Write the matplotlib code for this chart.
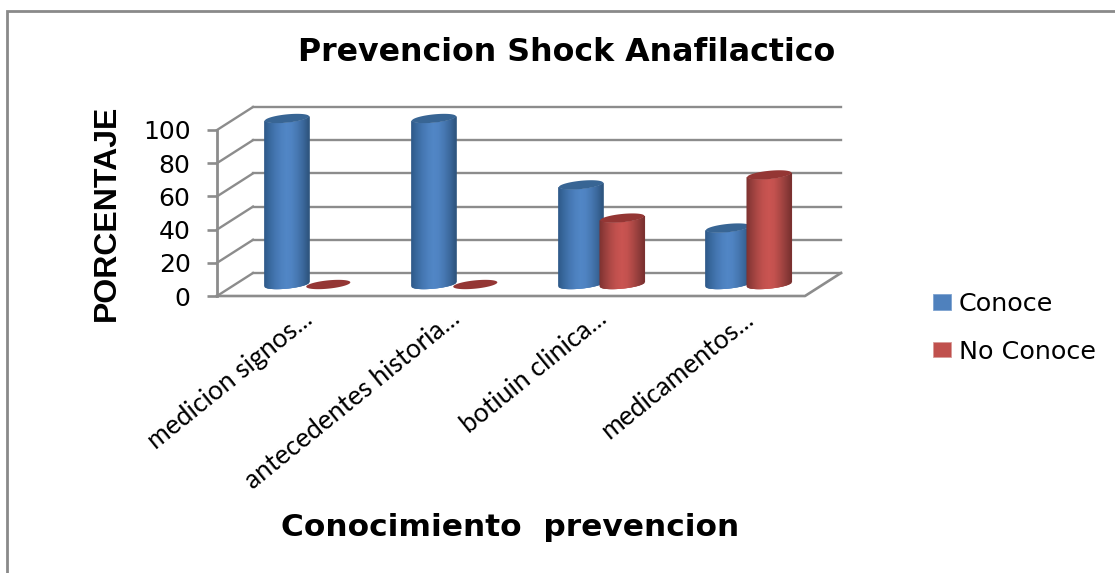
import numpy as np
import matplotlib
matplotlib.use("Agg")
import matplotlib.pyplot as plt
from matplotlib.lines import Line2D
from matplotlib.patches import Patch
from matplotlib.transforms import ScaledTranslation

categories = ["medicion signos...", "antecedentes historia...", "botiuin clinica...", "medicamentos..."]
conoce = [100, 100, 60, 34]
no_conoce = [0, 0, 40, 66]
y_ticks = [0, 20, 40, 60, 80, 100]

W, H = 1115, 573
fig = plt.figure(figsize=(W / 100, H / 100), dpi=100, facecolor="white")
ax = fig.add_axes([217 / W, 1 - 296 / H, 588 / W, 166 / H])

GRID = "#8c8c8c"
DEPTH_X = 36 / 147      # floor depth, in category units
DEPTH_Y = 23 / 1.66     # floor depth, in percent units
RADIUS = 0.15
CAP_B = 2.5
CAP_TILT = 1.3

# Walls and floor of the 3-D frame
for v in y_ticks:
    ax.plot([DEPTH_X, 4 + DEPTH_X], [v + DEPTH_Y] * 2, color=GRID, lw=1.7, zorder=1, clip_on=False)
    ax.plot([0, DEPTH_X], [v, v + DEPTH_Y], color=GRID, lw=1.7, zorder=1, clip_on=False)
ax.plot([0, 4, 4 + DEPTH_X], [0, 0, DEPTH_Y], color=GRID, lw=1.9, zorder=1, clip_on=False)
ax.plot([0, 0], [0, 100], color=GRID, lw=2.0, zorder=1, clip_on=False)


def cylinder(center, value, stops, cap_color, z):
    """Draw one cylinder as shaded vertical strips with an elliptical cap."""
    u = np.linspace(-1, 1, 90)
    base = DEPTH_Y / 2
    curve = CAP_B * np.sqrt(np.clip(1 - u ** 2, 0, 1))
    tilt = CAP_TILT * u
    low = base + tilt - curve
    high = base + value + tilt - curve
    rgb = np.array([matplotlib.colors.to_rgb(c) for c in stops])
    pos = np.linspace(-1, 1, len(stops))
    shades = np.column_stack([np.interp(u, pos, rgb[:, i]) for i in range(3)])
    if value > 0:
        ax.bar(center + RADIUS * u, high - low, bottom=low, width=RADIUS * 2 / 30,
               color=shades, linewidth=0, zorder=z, clip_on=False, snap=False)
    t = np.linspace(0, 2 * np.pi, 90)
    ax.fill(center + RADIUS * np.cos(t),
            base + value + CAP_TILT * np.cos(t) + CAP_B * np.sin(t),
            color=cap_color, linewidth=0, zorder=z + 0.1, clip_on=False)


BLUE_STOPS = ["#2f5a8a", "#3a6a9f", "#4577b2", "#4d81bf", "#5186c6", "#4f83c2", "#4778b2", "#3c699d", "#2f5680"]
RED_STOPS = ["#7f3331", "#983f3d", "#b04a47", "#c2514e", "#ca5451", "#c4524f", "#ae4946", "#943e3c", "#7b3130"]

x = np.arange(len(categories))
for i in x:
    cylinder(i + 0.476, conoce[i], BLUE_STOPS, "#386594", 3 + i * 0.01)
    cylinder(i + 0.757, no_conoce[i], RED_STOPS, "#943634", 4 + i * 0.01)

ax.set_xlim(0, 4)
ax.set_ylim(0, 100)
for s in ax.spines.values():
    s.set_visible(False)
ax.patch.set_visible(False)

ax.set_yticks(y_ticks)
ax.tick_params(axis="y", length=7, width=1.9, color=GRID, pad=12, labelsize=18, labelcolor="black")
for lab in ax.get_yticklabels():
    lab.set_fontfamily("DejaVu Sans")

ax.set_xticks(x + 0.5, categories, rotation=39, ha="right", va="top",
              rotation_mode="anchor", fontsize=19, fontfamily="Lato")
ax.tick_params(axis="x", length=0, pad=0)
shift = ScaledTranslation(11 / 100, -10 / 100, fig.dpi_scale_trans)
for lab in ax.get_xticklabels():
    lab.set_transform(lab.get_transform() + shift)

ax.set_title("Prevencion Shock Anafilactico", fontsize=22.8, fontweight="bold",
             fontfamily="DejaVu Sans", x=(567 - 217) / 588, y=(296 - 61) / 166, pad=0)
ax.set_xlabel("Conocimiento  prevencion", fontsize=22.5, fontweight="bold", fontfamily="DejaVu Sans")
ax.xaxis.set_label_coords((510 - 217) / 588, (296 - 527) / 166)
ax.xaxis.label.set_va("center")
ax.set_ylabel("PORCENTAJE", fontsize=23, fontweight="bold", fontfamily="Liberation Sans")
ax.yaxis.set_label_coords((107 - 217) / 588, (296 - 213) / 166)
ax.yaxis.label.set_va("center")

handles = [Patch(facecolor="#4f81bd", edgecolor="#7ea3d0", lw=0.6),
           Patch(facecolor="#c0504d", edgecolor="#d89a98", lw=0.6)]
fig.legend(handles, ["Conoce", "No Conoce"], loc="upper left",
           bbox_to_anchor=(933 / W, 1 - 292 / H), frameon=False, borderpad=0, borderaxespad=0,
           prop={"family": "DejaVu Sans", "size": 18.3}, handlelength=0.7, handleheight=0.56,
           handletextpad=0.32, labelspacing=0.93)

# Chart-area border: only the top and left edges are in frame
border = "#8a8a8a"
fig.add_artist(Line2D([7 / W, 7 / W, 1], [0, 1 - 10.5 / H, 1 - 10.5 / H],
                      color=border, lw=2.0, solid_joinstyle="miter"))

fig.savefig("out.png", dpi=100, facecolor="white")
